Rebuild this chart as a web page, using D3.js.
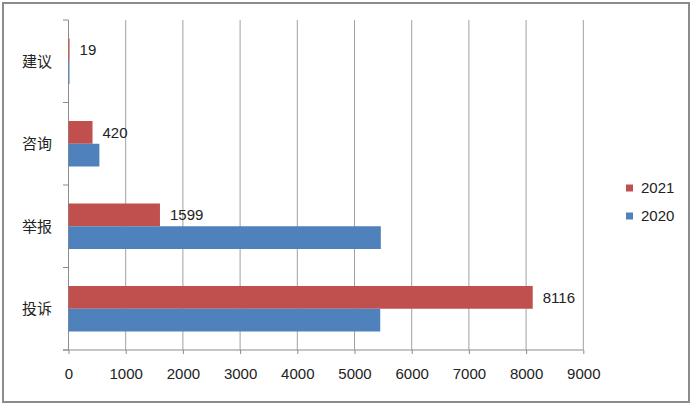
<!DOCTYPE html>
<html><head><meta charset="utf-8">
<script src="https://cdn.jsdelivr.net/npm/d3@7"></script>
<style>html,body{margin:0;padding:0;background:#fff;}svg{display:block;}</style>
</head><body>
<script>
const categories = ["建议", "咨询", "举报", "投诉"];
const seriesNames = ["2021", "2020"];
const values2021 = [19, 420, 1599, 8116];
const values2020 = [10, 540, 5460, 5450];
const xTicks = [0, 1000, 2000, 3000, 4000, 5000, 6000, 7000, 8000, 9000];
const colors = {"2021": "#C0504D", "2020": "#4F81BD"};

const W = 692, H = 406;
const svg = d3.select("body").append("svg").attr("width", W).attr("height", H);

// outer frame
svg.append("rect").attr("x", 3).attr("y", 3).attr("width", 686).attr("height", 399)
  .attr("fill", "#fff").attr("stroke", "#8c8c8c").attr("stroke-width", 2);

const x = d3.scaleLinear().domain([0, 9000]).range([68.5, 583.3]);
const y = d3.scaleBand().domain(categories).range([20, 350]).paddingInner(0).paddingOuter(0);
const ySub = d3.scaleBand().domain(seriesNames).range([18.5, y.bandwidth() - 18.5]).padding(0);

// gridlines
svg.append("g").selectAll("line").data(xTicks.slice(1)).join("line")
  .attr("x1", d => x(d)).attr("x2", d => x(d)).attr("y1", 20).attr("y2", 350)
  .attr("stroke", "#a0a0a0").attr("stroke-width", 1);

// x axis
const xAxis = svg.append("g").attr("transform", "translate(0,350)")
  .call(d3.axisBottom(x).tickValues(xTicks).tickSize(4).tickPadding(14).tickFormat(d3.format("d")));
xAxis.select(".domain").remove();
xAxis.selectAll(".tick line").attr("stroke", "#8c8c8c");
xAxis.selectAll("text").attr("font-family", "Liberation Sans, Arial, sans-serif").attr("font-size", 15).attr("fill", "#222");
svg.append("line").attr("x1", 63).attr("x2", 583.3).attr("y1", 350).attr("y2", 350).attr("stroke", "#8c8c8c");

// y axis
svg.append("line").attr("x1", 68.5).attr("x2", 68.5).attr("y1", 20).attr("y2", 350).attr("stroke", "#8c8c8c");
const bounds = categories.map(c => y(c)).concat([y.range()[1]]);
svg.append("g").selectAll("line").data(bounds).join("line")
  .attr("x1", 63).attr("x2", 68.5).attr("y1", d => d).attr("y2", d => d).attr("stroke", "#8c8c8c");
svg.append("g").selectAll("text").data(categories).join("text")
  .attr("x", 37).attr("y", d => y(d) + y.bandwidth() / 2).attr("dy", "0.35em")
  .attr("text-anchor", "middle").attr("font-family", "Noto Sans CJK SC, sans-serif")
  .attr("font-size", 15).attr("fill", "#222").text(d => d);

// bars
const data = [];
categories.forEach((c, i) => {
  data.push({cat: c, s: "2021", v: values2021[i], label: true});
  data.push({cat: c, s: "2020", v: values2020[i], label: false});
});
svg.append("g").selectAll("rect").data(data).join("rect")
  .attr("x", x(0)).attr("y", d => y(d.cat) + ySub(d.s))
  .attr("width", d => Math.max(1, x(d.v) - x(0))).attr("height", ySub.bandwidth())
  .attr("fill", d => colors[d.s]);

// data labels (2021)
svg.append("g").selectAll("text").data(data.filter(d => d.label)).join("text")
  .attr("x", d => x(d.v) + 10).attr("y", d => y(d.cat) + ySub(d.s) + ySub.bandwidth() / 2)
  .attr("dy", "0.35em").attr("font-family", "Liberation Sans, Arial, sans-serif")
  .attr("font-size", 15).attr("fill", "#222").text(d => d.v);

// legend
const leg = svg.append("g").selectAll("g").data(seriesNames).join("g")
  .attr("transform", (d, i) => `translate(626,${188 + i * 28})`);
leg.append("rect").attr("x", 0).attr("y", -3.5).attr("width", 7).attr("height", 7).attr("fill", d => colors[d]);
leg.append("text").attr("x", 15).attr("y", 0).attr("dy", "0.35em")
  .attr("font-family", "Liberation Sans, Arial, sans-serif").attr("font-size", 15).attr("fill", "#222").text(d => d);
</script>
</body></html>
